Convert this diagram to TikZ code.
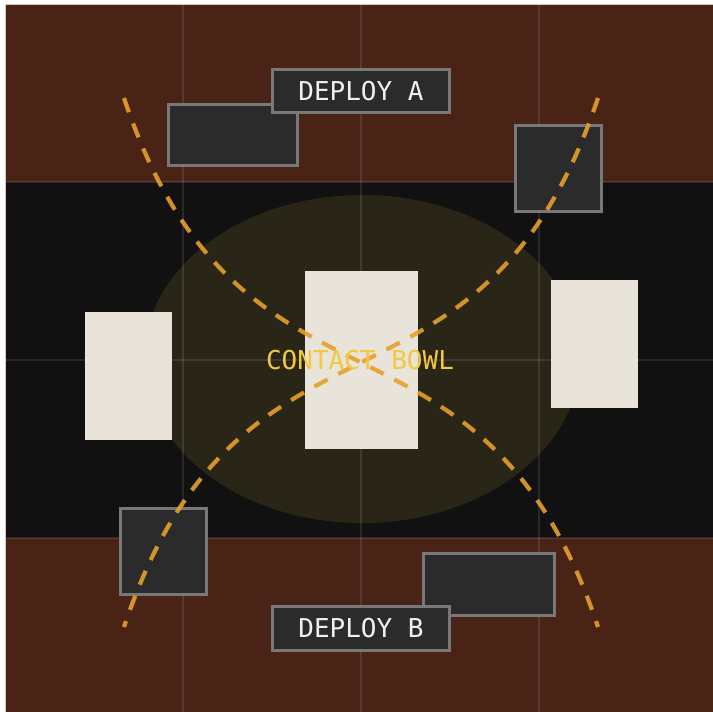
\documentclass[tikz,border=0pt]{standalone}
\usepackage{fontspec}
\usetikzlibrary{shapes.geometric}
\newfontfamily\monof{DejaVu Sans Mono}
\definecolor{bandbrown}{HTML}{4A2317}
\definecolor{bandblack}{HTML}{111111}
\definecolor{bowlcol}{HTML}{2A2617}
\definecolor{padcol}{HTML}{E8E4DA}
\definecolor{boxfill}{HTML}{2B2B2B}
\definecolor{boxedge}{HTML}{787878}
\definecolor{dashcol}{HTML}{E79F2B}
\definecolor{bowltext}{HTML}{F2C840}
\definecolor{edgepink}{HTML}{E8C4B8}
\tikzset{
  pad/.style={rectangle, fill=padcol, inner sep=0pt, outer sep=0pt},
  darkbox/.style={rectangle, fill=boxfill, draw=boxedge, line width=3pt, inner sep=0pt},
  labelbox/.style={darkbox, text=white!94!black, font=\monof\fontsize{26}{26}\selectfont},
  gridline/.style={white, opacity=0.1, line width=1.5pt},
  dashline/.style={dashcol, opacity=0.9, line width=4.2pt, dash pattern=on 15pt off 12pt},
}
\begin{document}
\begin{tikzpicture}[x=1pt,y=-1pt]
\useasboundingbox (0,0) rectangle (713,712);
\fill[white] (0,0) rectangle (713,712);
% bands
\fill[bandbrown] (5,4) rectangle (713,182);
\fill[bandblack] (5,182) rectangle (713,538);
\fill[bandbrown] (5,538) rectangle (713,712);
\draw[edgepink, line width=1.5pt] (5.5,712) -- (5.5,4.5) -- (713,4.5);
% bowl
\node[ellipse, fill=bowlcol, minimum width=436pt, minimum height=328pt, inner sep=0pt] (bowl) at (362,359) {};
% grid
\foreach \g in {183,361,539} {\draw[gridline] (\g,4) -- (\g,712);}
\foreach \g in {182,360,538} {\draw[gridline] (4,\g) -- (713,\g);}
% pads
\node[pad, minimum width=113pt, minimum height=178pt] (padC) at (361.5,360) {};
\node[pad, minimum width=87pt, minimum height=128pt] (padL) at (128.5,376) {};
\node[pad, minimum width=87pt, minimum height=128pt] (padR) at (594.5,344) {};
% dark boxes
\node[darkbox, minimum width=129pt, minimum height=61pt] (boxTL) at (233,135) {};
\node[darkbox, minimum width=86pt, minimum height=86pt] (boxTR) at (558.5,168.5) {};
\node[darkbox, minimum width=86pt, minimum height=86pt] (boxBL) at (163.5,551.5) {};
\node[darkbox, minimum width=131pt, minimum height=62pt] (boxBR) at (489,584.5) {};
% labels
\node[labelbox, minimum width=177pt, minimum height=43pt] (deployA) at (361,91) {DEPLOY A};
\node[labelbox, minimum width=177pt, minimum height=44pt] (deployB) at (361,628.5) {DEPLOY B};
% dashed curves
\coordinate (c1s) at (124,98);
\coordinate (c1e) at (598,627);
\coordinate (c2s) at (598,98);
\coordinate (c2e) at (124,627);
\draw[dashline] (c1s) .. controls (241,448) and (481,277) .. (c1e);
\draw[dashline] (c2s) .. controls (481,448) and (241,277) .. (c2e);
% bowl text
\node[text=bowltext, font=\monof\fontsize{26}{26}\selectfont, inner sep=0pt] (bowltxt) at (360,360) {CONTACT BOWL};
\end{tikzpicture}
\end{document}
